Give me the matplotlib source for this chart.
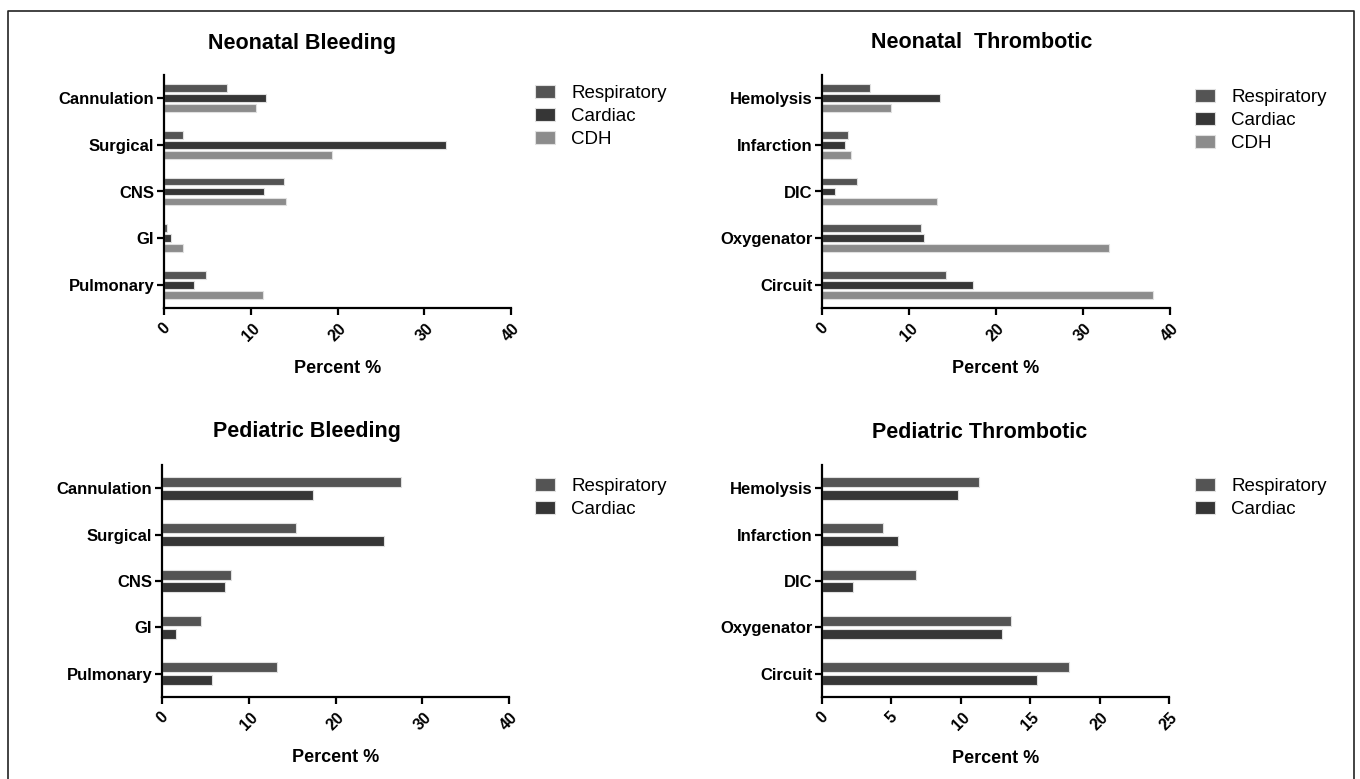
import matplotlib
matplotlib.use("Agg")
import matplotlib.pyplot as plt
import numpy as np
from matplotlib.lines import Line2D

plt.rcParams['font.family'] = ['Liberation Sans', 'DejaVu Sans']

bleed_cats = ['Cannulation', 'Surgical', 'CNS', 'GI', 'Pulmonary']
thromb_cats = ['Hemolysis', 'Infarction', 'DIC', 'Oxygenator', 'Circuit']

# neonatal bleeding
nb_resp = [7.3, 2.2, 13.8, 0.3, 4.8]
nb_card = [11.8, 32.5, 11.5, 0.8, 3.5]
nb_cdh = [10.6, 19.4, 14.1, 2.2, 11.4]

# neonatal thrombotic
nt_resp = [5.5, 3.0, 4.0, 11.4, 14.3]
nt_card = [13.6, 2.6, 1.5, 11.7, 17.4]
nt_cdh = [7.9, 3.3, 13.2, 33.0, 38.0]

# pediatric bleeding
pb_resp = [27.6, 15.5, 7.9, 4.5, 13.2]
pb_card = [17.4, 25.6, 7.3, 1.6, 5.8]

# pediatric thrombotic
pt_resp = [11.3, 4.4, 6.8, 13.6, 17.8]
pt_card = [9.8, 5.5, 2.2, 13.0, 15.5]

series_names = ['Respiratory', 'Cardiac', 'CDH']
colors = ['#545454', '#363636', '#8c8c8c']

W, H = 1360, 779
fig = plt.figure(figsize=(13.6, 7.79), dpi=100)


def box(l, r, t, b):
    return [l / W, 1 - b / H, (r - l) / W, (b - t) / H]


def panel(rect, title, title_x, title_y, cats, data, xmax, step, legend_xy):
    ax = fig.add_axes(rect)
    n = len(data)
    y = np.arange(len(cats))
    if n == 3:
        h, off = 0.17, 0.215
    else:
        h, off = 0.215, 0.274
    offsets = (np.arange(n) - (n - 1) / 2) * off
    for i, vals in enumerate(data):
        ax.barh(y + offsets[i], vals, height=h, color=colors[i],
                edgecolor='#e0e0e0', linewidth=0.8, label=series_names[i])
    ax.set_ylim(len(cats) - 0.5, -0.5)
    ax.set_xlim(0, xmax)
    ax.set_yticks(y)
    ax.set_yticklabels(cats, fontsize=12, fontweight='bold')
    ticks = np.arange(0, xmax + 0.1, step)
    ax.set_xticks(ticks)
    ax.set_xticklabels([str(int(t)) for t in ticks], rotation=45,
                       fontsize=11.5, fontweight='bold', ha='center', va='top')
    ax.tick_params(axis='both', width=1.6, length=5, direction='out', pad=2)
    ax.tick_params(axis='x', pad=4)
    for s in ['top', 'right']:
        ax.spines[s].set_visible(False)
    for s in ['left', 'bottom']:
        ax.spines[s].set_linewidth(1.6)
    ax.set_xlabel('Percent %', fontsize=13, fontweight='bold', labelpad=12)
    fig.text(title_x / W, 1 - title_y / H, title, fontsize=15.5,
             fontweight='bold', ha='center', va='center')
    ax.legend(loc='upper left', bbox_to_anchor=(legend_xy[0] / W, 1 - legend_xy[1] / H),
              bbox_transform=fig.transFigure, frameon=False, fontsize=13.5,
              handlelength=1.1, handleheight=0.75, labelspacing=0.3,
              handletextpad=0.85, borderaxespad=0)
    return ax


panel(box(164, 511, 75, 308), 'Neonatal Bleeding', 302, 43, bleed_cats,
      [nb_resp, nb_card, nb_cdh], 40, 10, (527, 77))
panel(box(822, 1170, 75, 308), 'Neonatal  Thrombotic', 982, 43, thromb_cats,
      [nt_resp, nt_card, nt_cdh], 40, 10, (1187, 81))
panel(box(162, 509, 465, 697), 'Pediatric Bleeding', 307, 432, bleed_cats,
      [pb_resp, pb_card], 40, 10, (527, 470))
panel(box(822, 1169, 465, 697), 'Pediatric Thrombotic', 980, 432, thromb_cats,
      [pt_resp, pt_card], 25, 5, (1187, 470))

# figure frame (left, top, right)
fx = [8 / W, 8 / W, 1354 / W, 1354 / W]
fy = [0, 1 - 11 / H, 1 - 11 / H, 0]
fig.add_artist(Line2D(fx, fy, transform=fig.transFigure, color='#222222', linewidth=1.2))

fig.savefig('out.png', dpi=100)
